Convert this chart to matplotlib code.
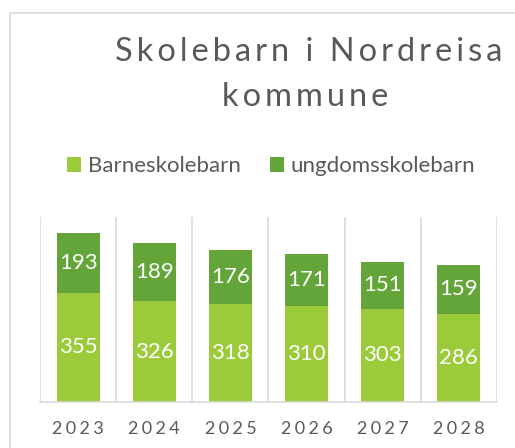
import matplotlib
matplotlib.use("Agg")
import matplotlib.pyplot as plt
from matplotlib.patches import Rectangle

years = ["2023", "2024", "2025", "2026", "2027", "2028"]
barneskole = [355, 326, 318, 310, 303, 286]
ungdomsskole = [193, 189, 176, 171, 151, 159]

c_light = "#9BCB3B"
c_dark = "#63A539"
grey_txt = "#595959"
grid_c = "#D9D9D9"

plt.rcParams["font.family"] = ["Lato", "DejaVu Sans"]

HS = "\u200a"  # hair space, used for the letter spacing


def spaced(s, n=1):
    return (HS * n).join(s)


fig = plt.figure(figsize=(5.15, 4.48), dpi=100)

# chart area border (cut off at the right and bottom)
fig.patches.append(Rectangle((10 / 515, -0.1), 2, 1.1 - 13 / 448,
                             transform=fig.transFigure, fill=False,
                             edgecolor=grid_c, linewidth=1.2))

ax = fig.add_axes([40 / 515, 46 / 448, 457 / 515, 185 / 448])
x = range(len(years))
ax.bar(x, barneskole, width=0.565, color=c_light, label="Barneskolebarn")
ax.bar(x, ungdomsskole, width=0.565, bottom=barneskole, color=c_dark,
       label="ungdomsskolebarn")

for i in x:
    ax.text(i, barneskole[i] / 2, str(barneskole[i]), ha="center", va="center",
            color="white", fontsize=16)
    ax.text(i, barneskole[i] + ungdomsskole[i] / 2, str(ungdomsskole[i]),
            ha="center", va="center", color="white", fontsize=16)

ax.set_ylim(0, 600)
ax.set_xlim(-0.5, len(years) - 0.5)
for b in [k - 0.5 for k in range(len(years) + 1)]:
    ax.axvline(b, color=grid_c, linewidth=1.2, zorder=0)
for s in ["top", "left", "right"]:
    ax.spines[s].set_visible(False)
ax.spines["bottom"].set_color(grid_c)
ax.spines["bottom"].set_linewidth(1.2)
ax.set_yticks([])
ax.set_xticks(list(x))
ax.set_xticklabels([spaced(y, 3) for y in years], fontsize=13, color=grey_txt)
ax.tick_params(axis="x", length=0, pad=14)

fig.text(309 / 515, 1 - 52 / 448, spaced("Skolebarn i Nordreisa", 2),
         ha="center", va="center", fontsize=23.5, color=grey_txt)
fig.text(305 / 515, 1 - 97 / 448, spaced("kommune", 2),
         ha="center", va="center", fontsize=23.5, color=grey_txt)

fig.legend(loc="center", bbox_to_anchor=(271 / 515, 1 - 166 / 448), ncol=2,
           frameon=False, fontsize=16, labelcolor=grey_txt, handlelength=0.65,
           handleheight=0.65, handletextpad=0.3, columnspacing=1.3)

fig.savefig("out.png", dpi=100)
